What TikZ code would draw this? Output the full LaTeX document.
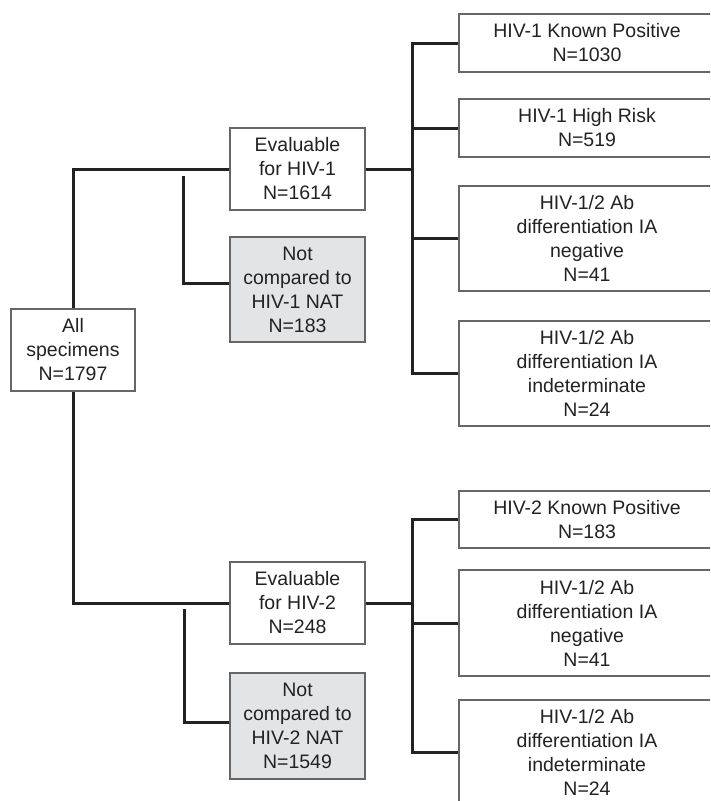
\documentclass[tikz,border=0pt]{standalone}
\usepackage{fontspec}
\setmainfont{Liberation Sans}
\definecolor{txt}{HTML}{222222}
\definecolor{edge}{HTML}{666666}
\definecolor{grayfill}{HTML}{E3E4E6}
\definecolor{conn}{HTML}{222222}
\begin{document}
\begin{tikzpicture}[x=1pt,y=-1pt,
  box/.style={draw=edge, line width=1.3pt, fill=white, text=txt, align=center,
    inner sep=0pt, font=\fontsize{19.5}{24}\selectfont},
  midbox/.style={box, minimum width=135pt},
  greybox/.style={midbox, fill=grayfill},
  rbox/.style={box, minimum width=256pt},
  conn/.style={draw=conn, line width=3pt}]
\useasboundingbox (0,0) rectangle (710,801);
\clip (0,0) rectangle (710,801);
\fill[white] (0,0) rectangle (710,801);
% nodes
\node[box, minimum width=124pt, minimum height=82pt] (all) at (73,350) {All\\specimens\\N=1797};
\node[midbox, minimum height=82pt] (ev1) at (297.5,169) {Evaluable\\for HIV-1\\N=1614};
\node[greybox, minimum height=105pt] (nc1) at (297.5,289.5) {Not\\compared to\\HIV-1 NAT\\N=183};
\node[midbox, minimum height=82pt] (ev2) at (297.5,603) {Evaluable\\for HIV-2\\N=248};
\node[greybox, minimum height=106pt] (nc2) at (297.5,726) {Not\\compared to\\HIV-2 NAT\\N=1549};
\node[rbox, minimum height=58pt] (r1) at (587,43) {HIV-1 Known Positive\\N=1030};
\node[rbox, minimum height=58pt] (r2) at (587,128) {HIV-1 High Risk\\N=519};
\node[rbox, minimum height=105pt] (r3) at (587,238.5) {HIV-1/2 Ab\\differentiation IA\\negative\\N=41};
\node[rbox, minimum height=105pt] (r4) at (587,373.5) {HIV-1/2 Ab\\differentiation IA\\indeterminate\\N=24};
\node[rbox, minimum height=57pt] (s1) at (587,519.5) {HIV-2 Known Positive\\N=183};
\node[rbox, minimum height=106pt] (s2) at (587,623) {HIV-1/2 Ab\\differentiation IA\\negative\\N=41};
\node[rbox, minimum height=105pt] (s3) at (587,752.5) {HIV-1/2 Ab\\differentiation IA\\indeterminate\\N=24};
% free ends
\coordinate (b1) at (183,176);
\coordinate (b2) at (184,609);
\coordinate (bus1) at (412,169);
\coordinate (bus2) at (412,603);
% connectors
\draw[conn] (all.north) |- (ev1.west);
\draw[conn] (all.south) |- (ev2.west);
\draw[conn] (b1) |- ([yshift=6pt]nc1.west);
\draw[conn] (b2) |- ([yshift=4pt]nc2.west);
\draw[conn] (ev1.east) -- (bus1);
\draw[conn] (ev2.east) -- (bus2);
\draw[conn] (r1.west) -| (bus1) |- (r4.west);
\draw[conn] (bus1 |- r2.west) -- (r2.west);
\draw[conn] (bus1 |- r3.west) -- (r3.west);
\draw[conn] (s1.west) -| (bus2) |- (s3.west);
\draw[conn] (bus2 |- s2.west) -- (s2.west);
\end{tikzpicture}
\end{document}
